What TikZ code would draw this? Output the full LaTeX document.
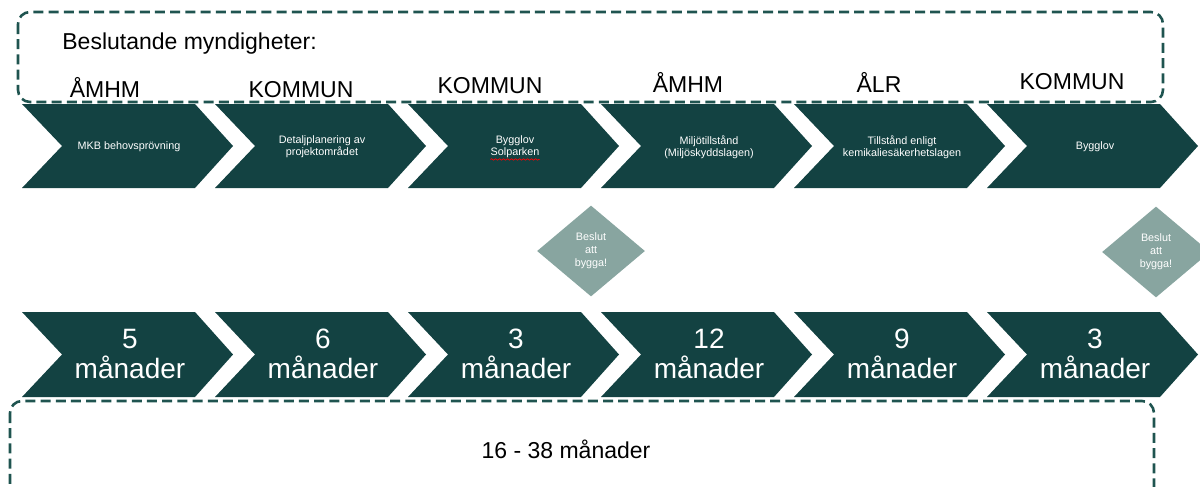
\documentclass[tikz,border=0pt]{standalone}
\usepackage{fontspec}
\setmainfont{Liberation Sans}
\usepackage{xcolor}
\usetikzlibrary{shapes.geometric}
\usetikzlibrary{decorations.pathmorphing}
\definecolor{chevgreen}{HTML}{134242}
\definecolor{diagrey}{HTML}{88A5A0}
\definecolor{dashgreen}{HTML}{1F5450}

\begin{document}
\begin{tikzpicture}[x=0.5pt,y=-0.5pt,
  chevron/.style={fill=chevgreen},
  steplabel/.style={text=white,align=center,inner sep=0pt,font=\fontsize{5.4}{6.2}\selectfont},
  timelabel/.style={text=white,anchor=base,inner sep=0pt,font=\fontsize{14}{15}\selectfont},
  authority/.style={anchor=base,inner sep=0pt,font=\fontsize{11.5}{13}\selectfont},
  decision/.style={diamond,fill=diagrey,text=white,align=center,inner sep=0pt,minimum width=54pt,minimum height=45.5pt,font=\fontsize{5.4}{6.6}\selectfont},
  groupbox/.style={draw=dashgreen,line width=1.3pt,dash pattern=on 5pt off 2.6pt,rounded corners=6pt}]
\useasboundingbox (0,0) rectangle (1200,487);
\clip (0,0) rectangle (1200,487);
\draw[groupbox] (18,12) rectangle (1163,102);
\draw[groupbox] (10,401) rectangle (1154,530);
\node[authority,anchor=base west] (head) at (62,49) {Beslutande myndigheter:};
\foreach \x/\y/\who [count=\i] in {105/97/ÅMHM,301/97/KOMMUN,490/93/KOMMUN,688/92/ÅMHM,879/92/ÅLR,1072/90/KOMMUN}
  \node[authority] (a\i) at (\x,\y) {\who};
\foreach \x [count=\i] in {22,215,408,601,794,987} {
  \fill[chevron] (\x,104) -- ++(173,0) -- ++(38,42) -- ++(-38,42) -- ++(-173,0) -- ++(40,-42) -- cycle;
  \fill[chevron] (\x,312) -- ++(173,0) -- ++(38,42.5) -- ++(-38,42.5) -- ++(-173,0) -- ++(40,-42.5) -- cycle;
}
\node[steplabel] (s1) at (129,147) {MKB behovsprövning};
\node[steplabel] (s2) at (322,147) {Detaljplanering av\\projektområdet};
\node[steplabel] (s3) at (515,147) {Bygglov\\Solparken};
\node[steplabel] (s4) at (709,147) {Miljötillstånd\\(Miljöskyddslagen)};
\node[steplabel] (s5) at (902,147) {Tillstånd enligt\\kemikaliesäkerhetslagen};
\node[steplabel] (s6) at (1095,147) {Bygglov};
\draw[red,line width=0.35pt,decorate,decoration={snake,amplitude=0.35pt,segment length=2pt}] ([yshift=-0.4pt]s3.south west) -- ([yshift=-0.4pt]s3.south east);
\node[decision] (d1) at (591,251) {Beslut\\att\\bygga!};
\node[decision] (d2) at (1156,252) {Beslut\\att\\bygga!};
\foreach \x/\n [count=\i] in {22/5,215/6,408/3,601/12,794/9,987/3} {
  \node[timelabel] (tn\i) at (\x+108,348) {\n};
  \node[timelabel] (tm\i) at (\x+108,378) {månader};
}
\node[authority] (total) at (566,458) {16 - 38 månader};
\end{tikzpicture}
\end{document}
